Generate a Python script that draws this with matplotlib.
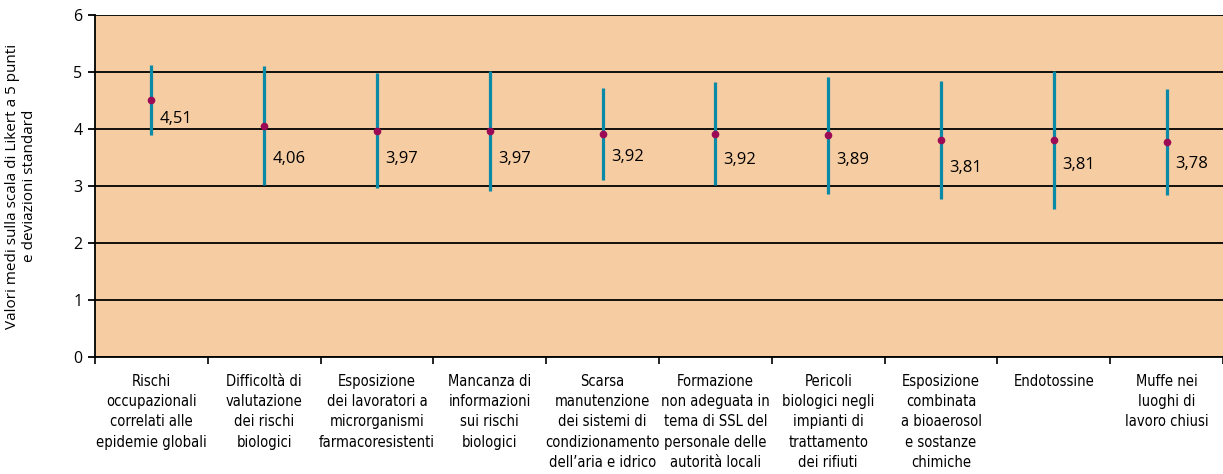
import matplotlib.pyplot as plt
from matplotlib import font_manager
import numpy as np

categorie = [
    "Rischi\noccupazionali\ncorrelati alle\nepidemie globali",
    "Difficoltà di\nvalutazione\ndei rischi\nbiologici",
    "Esposizione\ndei lavoratori a\nmicrorganismi\nfarmacoresistenti",
    "Mancanza di\ninformazioni\nsui rischi\nbiologici",
    "Scarsa\nmanutenzione\ndei sistemi di\ncondizionamento\ndell’aria e idrico",
    "Formazione\nnon adeguata in\ntema di SSL del\npersonale delle\nautorità locali",
    "Pericoli\nbiologici negli\nimpianti di\ntrattamento\ndei rifiuti",
    "Esposizione\ncombinata\na bioaerosol\ne sostanze\nchimiche",
    "Endotossine",
    "Muffe nei\nluoghi di\nlavoro chiusi",
]
medie = [4.51, 4.06, 3.97, 3.97, 3.92, 3.92, 3.89, 3.81, 3.81, 3.78]
dev_std = [0.61, 1.04, 1.01, 1.05, 0.81, 0.90, 1.03, 1.03, 1.21, 0.93]
etichette = ["4,51", "4,06", "3,97", "3,97", "3,92", "3,92", "3,89", "3,81", "3,81", "3,78"]

plt.rcParams['font.family'] = ['Open Sans', 'DejaVu Sans']

# font stretto per le etichette delle categorie, se c'e'
nomi = {f.name for f in font_manager.fontManager.ttflist}
stretti = [f for f in font_manager.fontManager.ttflist
           if 'Narrow' in f.name or 'Condensed' in f.name or f.stretch in ('condensed', 'semi-condensed')]
if 'Liberation Sans Narrow' in nomi:
    cat_font = dict(family=['Liberation Sans Narrow', 'DejaVu Sans'], fontsize=10.5)
elif stretti:
    f0 = stretti[0]
    cat_font = dict(family=[f0.name, 'DejaVu Sans'], stretch=f0.stretch, fontsize=10.5)
else:
    cat_font = dict(family=['Liberation Sans', 'DejaVu Sans'], fontsize=9.6)

fig = plt.figure(figsize=(12.23, 4.74), dpi=100)
ax = fig.add_axes([0.0777, 0.247, 0.9223, 0.721])
ax.set_facecolor('#f6cca2')

x = np.arange(len(medie))
for v in range(0, 7):
    ax.axhline(v, color='black', lw=1.3, zorder=1)

ax.errorbar(x, medie, yerr=dev_std, fmt='none', ecolor='#0a8aa6', elinewidth=2.3, capsize=0, zorder=2)
ax.plot(x, medie, 'o', color='#9c0a55', ms=4.5, zorder=3)

offs = [-14, -24, -20, -20, -17, -19, -18, -20, -18, -16]
for xi, m, t, o in zip(x, medie, etichette, offs):
    ax.annotate(t, (xi, m), xytext=(6, o), textcoords='offset points',
                fontsize=12, va='center', ha='left')

ax.set_xlim(-0.5, len(medie) - 0.5)
ax.set_ylim(0, 6)
ax.set_yticks(range(0, 7))
ax.tick_params(axis='y', length=5, width=1.3, labelsize=11.5, pad=4)
ax.set_xticks(np.arange(-0.5, len(medie), 1))
ax.set_xticklabels([])
ax.set_xticks(x, minor=True)
ax.set_xticklabels(categorie, minor=True, linespacing=1.45, va='top', **cat_font)
ax.tick_params(axis='x', which='major', length=5, width=1.2)
ax.tick_params(axis='x', which='minor', length=0, pad=12)

for s in ['top', 'right']:
    ax.spines[s].set_visible(False)
ax.spines['left'].set_linewidth(1.3)
ax.spines['bottom'].set_linewidth(1.3)

ax.set_ylabel("Valori medi sulla scala di Likert a 5 punti\ne deviazioni standard",
              fontsize=11, labelpad=26, linespacing=1.2)

fig.savefig('out.png', dpi=100)
